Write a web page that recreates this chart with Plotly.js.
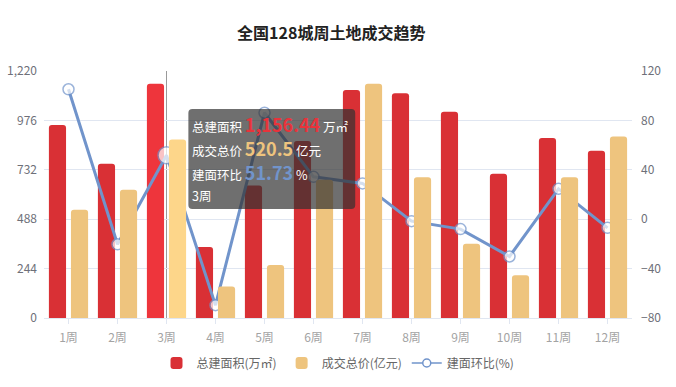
<!DOCTYPE html>
<html><head><meta charset="utf-8">
<script src="https://cdn.plot.ly/plotly-3.0.1.min.js"></script>
<style>html,body{margin:0;padding:0;background:#fff}#c{width:676px;height:387px}</style>
</head><body><div id="c"></div>
<script>
const weeks = ['1周','2周','3周','4周','5周','6周','7周','8周','9周','10周','11周','12周'];
const area = [953, 762, 1156.44, 351, 655, 874, 1126, 1110, 1019, 712, 889, 826];
const price = [315.3, 373.8, 520.5, 91.7, 154.4, 402.8, 682.6, 410.5, 216.5, 124.8, 410.5, 528.8];
const ratio = [105.2, -20.3, 51.73, -69.6, 86.2, 34.3, 29.0, -1.6, -8.0, -30.2, 24.6, -7.0];
const leftTicks = [0, 244, 488, 732, 976, 1220];
const rightTicks = [-80, -40, 0, 40, 80, 120];
const seriesNames = ['总建面积(万㎡)', '成交总价(亿元)', '建面环比(%)'];
const hoverIdx = 2;

const W = 676, H = 387, L = 43.5, R = 632, T = 71, B = 318;
const fx = p => (p - L) / (R - L);
const fy = p => (B - p) / (B - T);
const font = '"Noto Sans CJK SC", "Noto Sans", sans-serif';
const lineColor = '#7194cb';

const redCol = area.map((v, i) => i === hoverIdx ? '#ee353c' : '#d93035');
const yelCol = price.map((v, i) => i === hoverIdx ? '#fdd68a' : '#eec47e');
const mSize = ratio.map((v, i) => i === hoverIdx ? 17 : 11);

const traces = [
  {type:'bar', name:seriesNames[0], x:weeks, y:area, yaxis:'y', width:0.35, offset:-0.4,
   marker:{color:redCol, cornerradius:3}, hoverinfo:'skip'},
  {type:'bar', name:seriesNames[1], x:weeks, y:price, yaxis:'y3', width:0.35, offset:0.05,
   marker:{color:yelCol, cornerradius:3}, hoverinfo:'skip'},
  {type:'scatter', mode:'lines+markers', name:seriesNames[2], x:weeks, y:ratio, yaxis:'y2',
   line:{color:lineColor, width:3}, showlegend:false,
   marker:{size:mSize, color:'#fff', line:{color:lineColor, width:1.5}}, hoverinfo:'skip'},
  // legend entry for the line series
  {type:'scatter', mode:'lines+markers', name:seriesNames[2], x:[null], y:[null], yaxis:'y2',
   line:{color:lineColor, width:1.5}, marker:{size:8, color:'#fff', line:{color:lineColor, width:1.5}},
   hoverinfo:'skip'}
];

// tooltip box (rounded rect in pixel coords converted to paper)
const bx0 = 188, bx1 = 355, by0 = 109, by1 = 209, r = 4;
const P = (x, y) => fx(x).toFixed(5) + ',' + fy(y).toFixed(5);
const boxPath = 'M' + P(bx0 + r, by0) + ' L' + P(bx1 - r, by0) + ' Q' + P(bx1, by0) + ' ' + P(bx1, by0 + r) +
  ' L' + P(bx1, by1 - r) + ' Q' + P(bx1, by1) + ' ' + P(bx1 - r, by1) +
  ' L' + P(bx0 + r, by1) + ' Q' + P(bx0, by1) + ' ' + P(bx0, by1 - r) +
  ' L' + P(bx0, by0 + r) + ' Q' + P(bx0, by0) + ' ' + P(bx0 + r, by0) + ' Z';

const fmt2 = v => v.toLocaleString('en-US', {minimumFractionDigits:2, maximumFractionDigits:2});
const big = (txt, col) => '<span style="color:' + col + ';font-size:18px"><b>' + txt + '</b></span>';
const tipLines = [
  '总建面积 ' + big(fmt2(area[hoverIdx]), '#e8333b') + ' 万㎡',
  '成交总价 ' + big(String(price[hoverIdx]), '#eec47e') + ' 亿元',
  '建面环比 ' + big(String(ratio[hoverIdx]), '#7194cb') + ' %',
  weeks[hoverIdx]
];
const tipY = [124, 148, 172, 195];
const annotations = tipLines.map((t, i) => ({
  xref:'paper', yref:'paper', x:fx(191), y:fy(tipY[i]), xanchor:'left', yanchor:'middle',
  text:t, showarrow:false, align:'left', borderpad:0, font:{family:font, size:12.5, color:'#fff'}
}));

const layout = {
  width:W, height:H, paper_bgcolor:'#fff', plot_bgcolor:'#fff',
  margin:{l:L, r:W - R, t:T, b:H - B, pad:0, autoexpand:false},
  font:{family:font, size:12, color:'#6e7079'},
  title:{text:'<b>全国128城周土地成交趋势</b>', x:0.49, xanchor:'center', y:1 - 33/H, yanchor:'middle',
         font:{family:font, size:16, color:'#222'}},
  barmode:'overlay', hovermode:false, showlegend:true,
  legend:{orientation:'h', x:0.5, xanchor:'center', y:fy(363), yanchor:'middle',
          font:{family:font, size:12, color:'#666'}, itemwidth:30, tracegroupgap:0, traceorder:'normal'},
  xaxis:{type:'category', range:[-0.5, weeks.length - 0.5], automargin:false, showgrid:false, showline:true,
         linecolor:'#e0e6f1', linewidth:1, ticklabelstandoff:4,
         ticks:'outside', ticklen:5, tickcolor:'#e0e6f1', tickfont:{color:'#a3a3a3', size:12},
         zeroline:false, fixedrange:true},
  yaxis:{range:[0, 1220], automargin:false, tickmode:'array', tickvals:leftTicks, tickformat:',', showgrid:true,
         gridcolor:'#e0e6f1', zeroline:false, showline:false, ticks:'', ticklabelstandoff:6,
         tickfont:{color:'#6e7079', size:12}},
  yaxis2:{range:[-80, 120], automargin:false, tickmode:'array', tickvals:rightTicks, overlaying:'y', side:'right',
          showgrid:false, zeroline:false, showline:false, ticks:'', ticklabelstandoff:8,
          tickfont:{color:'#6e7079', size:12}},
  yaxis3:{range:[0, 720], automargin:false, overlaying:'y', visible:false, showgrid:false, zeroline:false},
  shapes:[
    {type:'line', xref:'x', yref:'paper', x0:weeks[hoverIdx], x1:weeks[hoverIdx], y0:0, y1:1,
     line:{color:'#9a9a9a', width:1}, layer:'below'},
    {type:'path', xref:'paper', yref:'paper', path:boxPath, fillcolor:'rgba(50,50,50,0.7)',
     line:{width:0}, layer:'above'}
  ],
  annotations:annotations
};
Plotly.newPlot('c', traces, layout, {displayModeBar:false, staticPlot:true});
</script></body></html>
